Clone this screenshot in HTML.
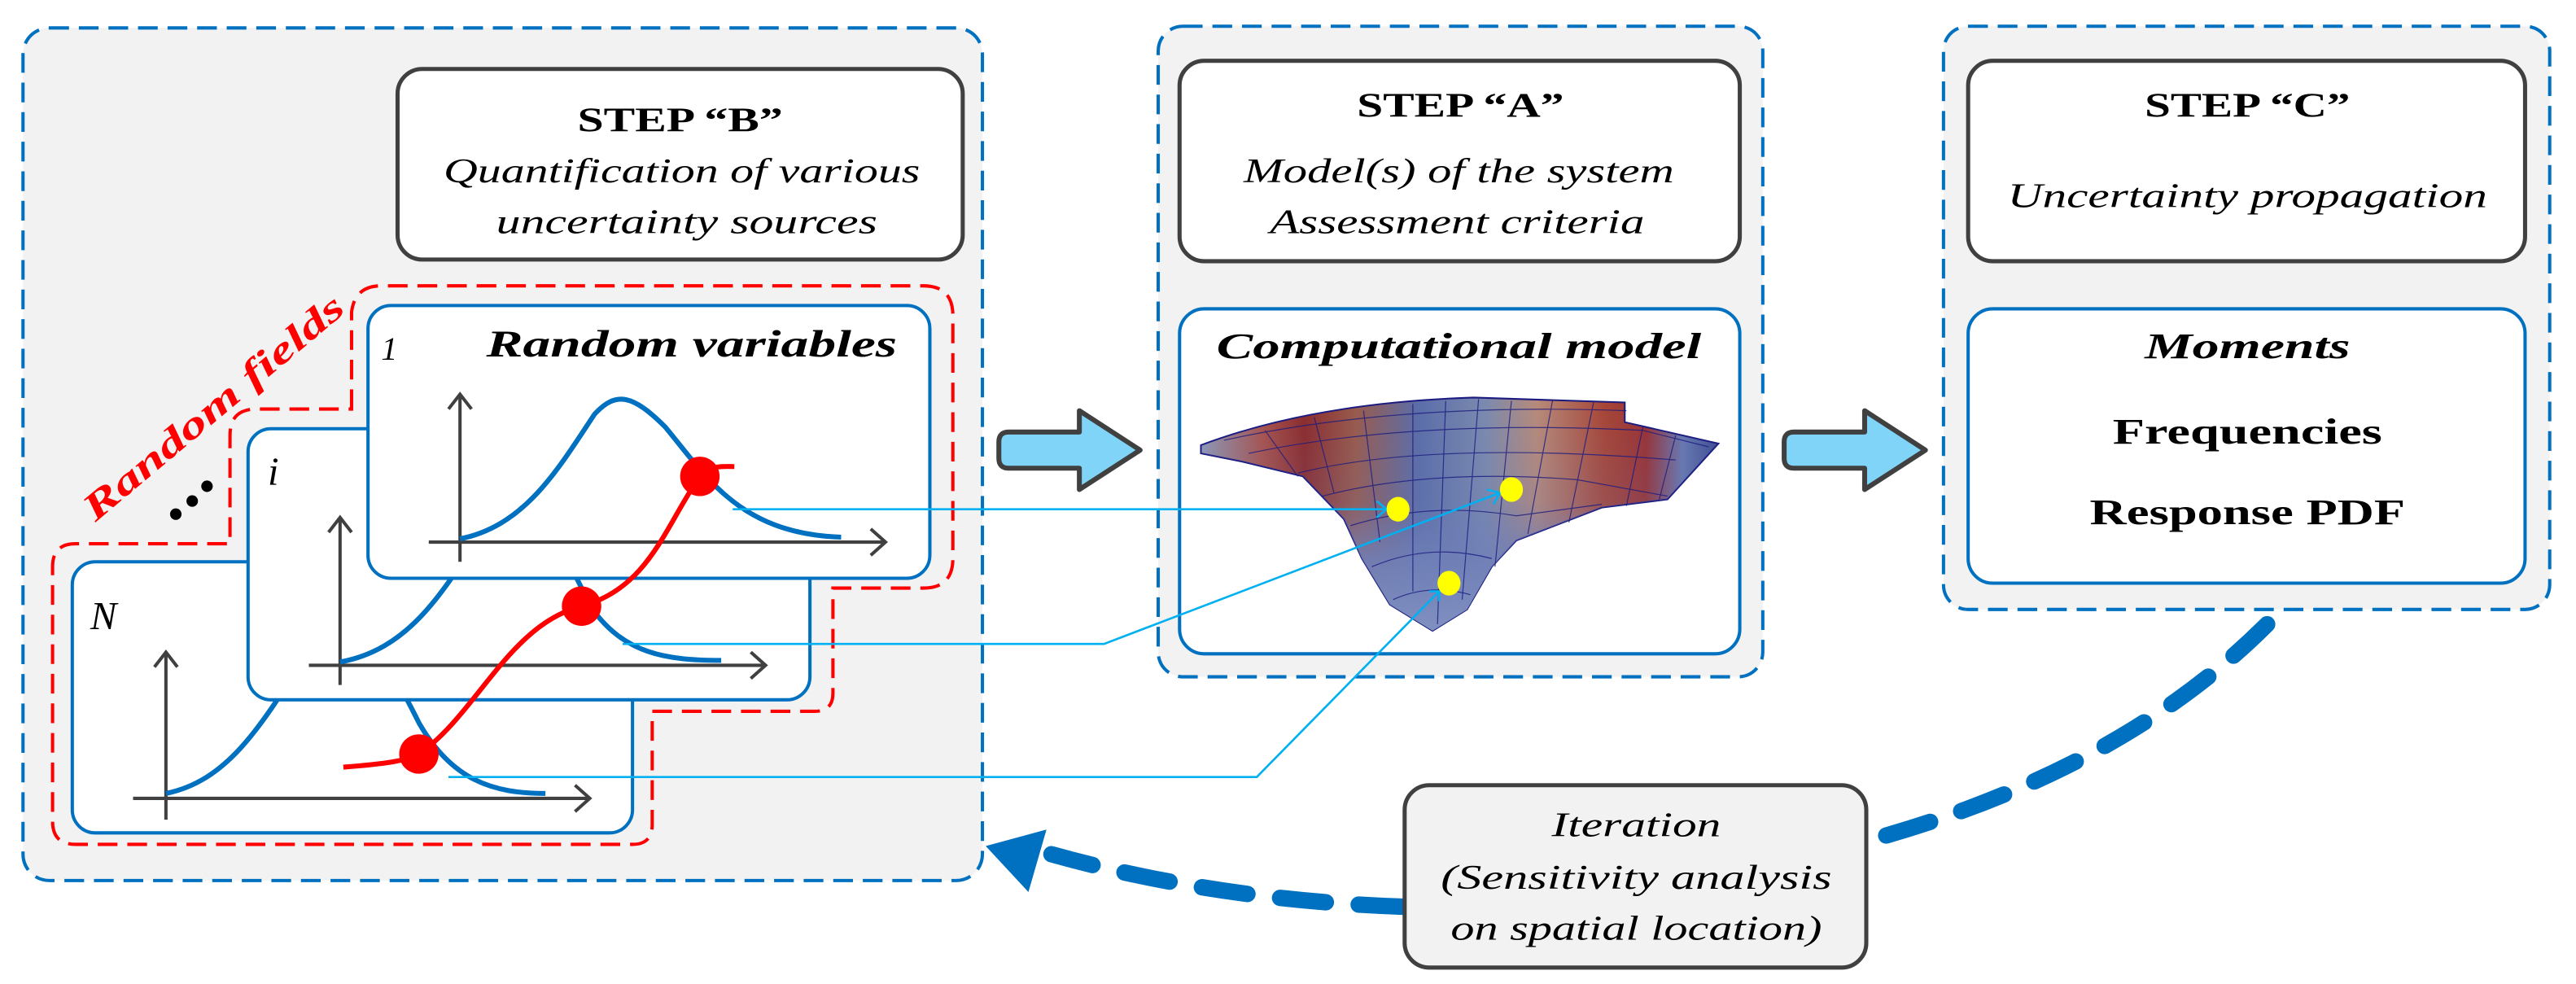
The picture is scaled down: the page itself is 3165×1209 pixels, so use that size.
<!DOCTYPE html>
<html><head><meta charset="utf-8">
<style>html,body{margin:0;padding:0;background:#fff}svg{display:block}</style></head>
<body>
<svg width="3165" height="1209" viewBox="0 0 1568 599" preserveAspectRatio="none" xmlns="http://www.w3.org/2000/svg" font-family="'Liberation Serif', serif">
<defs>
<linearGradient id="mg" x1="0" x2="1" y1="0" y2="0">
<stop offset="0" stop-color="#8f9bb8"/>
<stop offset="0.12" stop-color="#a9524a"/>
<stop offset="0.2" stop-color="#8c2a2a"/>
<stop offset="0.3" stop-color="#9a5a4a"/>
<stop offset="0.42" stop-color="#5a6da8"/>
<stop offset="0.55" stop-color="#7b8aae"/>
<stop offset="0.65" stop-color="#b88a78"/>
<stop offset="0.78" stop-color="#a84535"/>
<stop offset="0.86" stop-color="#9a3030"/>
<stop offset="0.93" stop-color="#6878b0"/>
<stop offset="1" stop-color="#3a4a90"/>
</linearGradient>
<linearGradient id="mg2" x1="0" x2="0" y1="0" y2="1">
<stop offset="0" stop-color="#6a7ab8" stop-opacity="0"/>
<stop offset="0.45" stop-color="#6a7ab8" stop-opacity="0.2"/>
<stop offset="0.7" stop-color="#7080b8" stop-opacity="0.9"/>
<stop offset="1" stop-color="#8090c0" stop-opacity="1"/>
</linearGradient>
</defs>

<!-- Left panel -->
<rect x="14" y="17" width="584" height="519" rx="16" fill="#f2f2f2" stroke="#0070c0" stroke-width="2" stroke-dasharray="12 6"/>
<rect x="242" y="42" width="344" height="116" rx="15" fill="#fff" stroke="#404040" stroke-width="2.5"/>
<text x="414" y="80" font-size="21" font-weight="bold" text-anchor="middle" textLength="125" lengthAdjust="spacingAndGlyphs">STEP “B”</text>
<text x="415" y="111" font-size="21" font-style="italic" text-anchor="middle" textLength="290" lengthAdjust="spacingAndGlyphs">Quantification of various</text>
<text x="418" y="142" font-size="21" font-style="italic" text-anchor="middle" textLength="232" lengthAdjust="spacingAndGlyphs">uncertainty sources</text>

<path d="M214 249 L214 190 Q216 174 232 174 L562 174 Q580 174 580 192 L580 340 Q580 358 562 358 L507 358 L507 422 Q507 433 496 433 L397 433 L397 502 Q397 514 385 514 L46 514 Q32 514 32 500 L32 345 Q32 331 46 331 L140 331 L140 265 Q140 249 156 249 Z" fill="none" stroke="#ff0000" stroke-width="2" stroke-dasharray="12 6"/>

<rect x="44" y="342" width="341" height="165" rx="14" fill="#fff" stroke="#0070c0" stroke-width="2"/>
<text x="55" y="383" font-size="24" font-style="italic">N</text>
<path d="M101 499 L101 398 M94 406 L101 397 L108 406" stroke="#404040" stroke-width="2" fill="none"/>
<path d="M81 486 L359 486 M350 478 L359 486 L350 494" stroke="#404040" stroke-width="2" fill="none"/>
<path d="M101 483 C140 475 160 440 190 393 C210 360 230 390 255 440 C275 475 300 483 332 483" stroke="#0070c0" stroke-width="3" fill="none"/>

<rect x="151" y="261" width="342" height="165" rx="14" fill="#fff" stroke="#0070c0" stroke-width="2"/>
<text x="163" y="295" font-size="24" font-style="italic">i</text>
<path d="M207 417 L207 316 M200 324 L207 315 L214 324" stroke="#404040" stroke-width="2" fill="none"/>
<path d="M188 405 L466 405 M457 397 L466 405 L457 413" stroke="#404040" stroke-width="2" fill="none"/>
<path d="M207 403 C250 395 270 360 297 318 C320 285 335 320 360 370 C380 398 405 402 439 402" stroke="#0070c0" stroke-width="3" fill="none"/>

<rect x="224" y="186" width="342" height="166" rx="14" fill="#fff" stroke="#0070c0" stroke-width="2"/>
<text x="232" y="219" font-size="20" font-style="italic">1</text>
<text x="421" y="217" font-size="23" font-weight="bold" font-style="italic" text-anchor="middle" textLength="250" lengthAdjust="spacingAndGlyphs">Random variables</text>
<path d="M280 342 L280 241 M273 249 L280 240 L287 249" stroke="#404040" stroke-width="2" fill="none"/>
<path d="M261 330 L539 330 M530 322 L539 330 L530 338" stroke="#404040" stroke-width="2" fill="none"/>
<path d="M280 328 C320 320 340 285 362 252 C375 238 385 240 405 260 C430 290 450 325 512 327" stroke="#0070c0" stroke-width="3" fill="none"/>

<path d="M209 467 C235 465 248 463 255 459 C290 435 310 380 354 369 C395 358 405 320 426 290 C432 283 440 284 447 284" stroke="#ff0000" stroke-width="3" fill="none"/>
<circle cx="255" cy="459" r="12" fill="#ff0000"/>
<circle cx="354" cy="369" r="12" fill="#ff0000"/>
<circle cx="426" cy="290" r="12" fill="#ff0000"/>

<text x="0" y="0" font-size="23" font-weight="bold" font-style="italic" fill="#ff0000" transform="translate(58,318) rotate(-40)" textLength="200" lengthAdjust="spacingAndGlyphs">Random fields</text>
<circle cx="107" cy="313" r="3.5" fill="#000"/>
<circle cx="117" cy="305" r="3.5" fill="#000"/>
<circle cx="126" cy="296" r="3.5" fill="#000"/>

<path d="M614 263 L657 263 L657 250 L694 274 L657 298 L657 285 L614 285 Q608 285 608 279 L608 269 Q608 263 614 263 Z" fill="#7fd4f7" stroke="#404040" stroke-width="3" stroke-linejoin="round"/>
<path d="M1092 263 L1135 263 L1135 250 L1172 274 L1135 298 L1135 285 L1092 285 Q1086 285 1086 279 L1086 269 Q1086 263 1092 263 Z" fill="#7fd4f7" stroke="#404040" stroke-width="3" stroke-linejoin="round"/>

<!-- Middle panel -->
<rect x="705" y="16" width="368" height="396" rx="15" fill="#f2f2f2" stroke="#0070c0" stroke-width="2" stroke-dasharray="12 6"/>
<rect x="718" y="37" width="341" height="122" rx="15" fill="#fff" stroke="#404040" stroke-width="2.5"/>
<text x="889" y="71" font-size="21" font-weight="bold" text-anchor="middle" textLength="126" lengthAdjust="spacingAndGlyphs">STEP “A”</text>
<text x="888" y="111" font-size="21" font-style="italic" text-anchor="middle" textLength="262" lengthAdjust="spacingAndGlyphs">Model(s) of the system</text>
<text x="887" y="142" font-size="21" font-style="italic" text-anchor="middle" textLength="228" lengthAdjust="spacingAndGlyphs">Assessment criteria</text>
<rect x="718" y="188" width="341" height="210" rx="15" fill="#fff" stroke="#0070c0" stroke-width="2"/>
<text x="888" y="218" font-size="22" font-weight="bold" font-style="italic" text-anchor="middle" textLength="295" lengthAdjust="spacingAndGlyphs">Computational model</text>

<path d="M731 271 Q800 245 897 242 L989 245 L989 257 L1046 270 L1015 304 L975 309 L923 329 L908 345 L893 371 L872 384 L846 368 L829 340 L818 316 L793 290 L756 281 L731 276 Z" fill="url(#mg)" stroke="#1a1a80" stroke-width="1"/>
<path d="M731 271 Q800 245 897 242 L989 245 L989 257 L1046 270 L1015 304 L975 309 L923 329 L908 345 L893 371 L872 384 L846 368 L829 340 L818 316 L793 290 L756 281 L731 276 Z" fill="url(#mg2)"/>
<g stroke="#1a1a80" stroke-width="0.6" fill="none" opacity="0.8">
<path d="M745 268 Q850 245 990 250"/>
<path d="M760 276 Q860 255 1000 262 L1040 272"/>
<path d="M790 288 Q870 268 1020 280"/>
<path d="M805 302 Q870 285 960 292 L1015 302"/>
<path d="M822 320 Q870 305 923 314 L975 307"/>
<path d="M835 345 Q870 330 908 340"/>
<path d="M848 365 Q870 355 895 362"/>
<path d="M770 262 L790 290 M800 254 L812 300 M830 250 L840 330 M860 246 L860 360 M880 244 L875 380 M900 243 L890 365 M920 244 L910 345 M945 244 L930 325 M970 245 L955 318 M1000 260 L990 308 M1020 265 L1010 304"/>
</g>

<!-- Right panel -->
<rect x="1183" y="16" width="369" height="355" rx="15" fill="#f2f2f2" stroke="#0070c0" stroke-width="2" stroke-dasharray="12 6"/>
<rect x="1198" y="37" width="339" height="122" rx="15" fill="#fff" stroke="#404040" stroke-width="2.5"/>
<text x="1368" y="71" font-size="21" font-weight="bold" text-anchor="middle" textLength="125" lengthAdjust="spacingAndGlyphs">STEP “C”</text>
<text x="1368" y="126" font-size="21" font-style="italic" text-anchor="middle" textLength="292" lengthAdjust="spacingAndGlyphs">Uncertainty propagation</text>
<rect x="1198" y="188" width="339" height="167" rx="15" fill="#fff" stroke="#0070c0" stroke-width="2"/>
<text x="1368" y="218" font-size="22" font-weight="bold" font-style="italic" text-anchor="middle" textLength="125" lengthAdjust="spacingAndGlyphs">Moments</text>
<text x="1368" y="270" font-size="22" font-weight="bold" text-anchor="middle" textLength="164" lengthAdjust="spacingAndGlyphs">Frequencies</text>
<text x="1368" y="319" font-size="22" font-weight="bold" text-anchor="middle" textLength="192" lengthAdjust="spacingAndGlyphs">Response PDF</text>

<path d="M1380 380 Q1290 470 1136 512" stroke="#0070c0" stroke-width="10" fill="none" stroke-dasharray="28 20" stroke-linecap="round"/>
<path d="M855 552 Q740 548 640 520" stroke="#0070c0" stroke-width="10" fill="none" stroke-dasharray="28 20" stroke-linecap="round"/>
<polygon points="600,515 637,505 626,543" fill="#0070c0"/>

<rect x="855" y="478" width="281" height="111" rx="15" fill="#f2f2f2" stroke="#404040" stroke-width="2.5"/>
<text x="996" y="509" font-size="21" font-style="italic" text-anchor="middle" textLength="103" lengthAdjust="spacingAndGlyphs">Iteration</text>
<text x="996" y="541" font-size="21" font-style="italic" text-anchor="middle" textLength="238" lengthAdjust="spacingAndGlyphs">(Sensitivity analysis</text>
<text x="996" y="572" font-size="21" font-style="italic" text-anchor="middle" textLength="226" lengthAdjust="spacingAndGlyphs">on spatial location)</text>

<!-- cyan leader lines on top -->
<g stroke="#00b0f0" stroke-width="1.3" fill="none">
<path d="M446 310 L843 310 M838 305 L844 310 L838 315"/>
<path d="M379 392 L672 392 L913 300 M905 298 L913 300 L909 307"/>
<path d="M273 473 L765 473 L876 360 M870 360 L876 360 L876 366"/>
</g>
<g fill="#ffff00">
<ellipse cx="851" cy="310" rx="7" ry="7.5"/>
<ellipse cx="920" cy="298" rx="7" ry="7.5"/>
<ellipse cx="882" cy="355" rx="7" ry="7.5"/>
</g>
</svg>
</body></html>
